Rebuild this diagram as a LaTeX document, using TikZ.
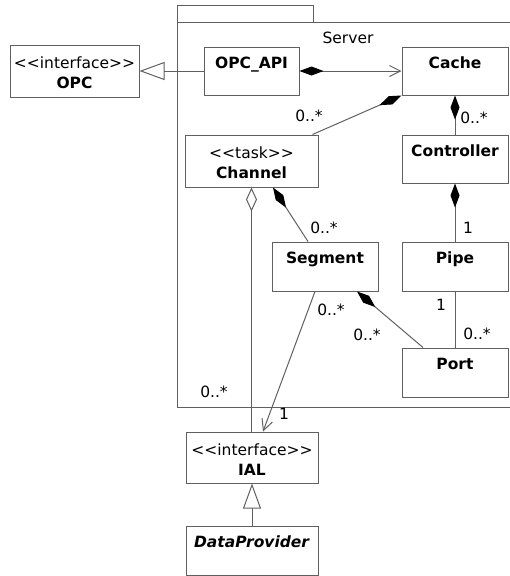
\documentclass[tikz,border=0pt]{standalone}
\usepackage{fontspec}
\setmainfont{DejaVu Sans}
\usetikzlibrary{arrows.meta}
\definecolor{linegray}{RGB}{96,96,96}

% stereotype in angle brackets, kept apart so no guillemets appear
\newcommand{\stereotype}[1]{<\kern0pt<#1>\kern0pt>}

\tikzset{
  classbox/.style={draw=linegray, inner xsep=0pt, inner ysep=0pt,
    minimum width=106pt, text height=21pt, text depth=27pt},
  stereobox/.style={classbox, align=center, text height=43pt, text depth=9pt},
  mult/.style={inner sep=0pt},
  gen/.style={-{Triangle[open,length=25pt,width=18pt]}},
  comp/.style={{Diamond[length=24pt,width=9pt,color=black]}-},
  aggr/.style={{Diamond[open,length=24pt,width=11pt]}-},
  nav/.style={-{Straight Barb[length=11pt,width=11pt]}},
  compnav/.style={{Diamond[length=24pt,width=9pt,color=black]}-{Straight Barb[length=11pt,width=11pt]}},
}

\begin{document}
\begin{tikzpicture}[x=1pt, y=-1pt, line width=1pt, font=\fontsize{15.5}{20}\selectfont]
  \useasboundingbox (0,0) rectangle (510,576);

  % package frame, open on the right
  \draw[linegray] (177,22) rectangle (313,5);
  \draw[linegray] (510,22) -- (177,22) -- (177,407) -- (510,407);
  \node (server) at (348,38) {Server};

  % classes
  \node[stereobox, minimum width=129pt] (opc) at (74.5,71) {\stereotype{interface}\\\textbf{OPC}};
  \node[classbox, minimum width=95pt] (api) at (251.5,71) {\textbf{OPC\_API}};
  \node[classbox] (cache) at (455,71) {\textbf{Cache}};
  \node[stereobox, minimum width=133pt] (channel) at (251.5,161) {\stereotype{task}\\\textbf{Channel}};
  \node[classbox] (controller) at (455,159) {\textbf{Controller}};
  \node[classbox, text depth=28pt] (segment) at (325,266.5) {\textbf{Segment}};
  \node[classbox, text depth=28pt] (pipe) at (455,266.5) {\textbf{Pipe}};
  \node[classbox, text depth=28pt] (port) at (455,372.5) {\textbf{Port}};
  \node[stereobox, minimum width=132pt, text depth=8pt] (ial) at (252,457.5) {\stereotype{interface}\\\textbf{IAL}};
  \node[classbox, minimum width=132pt, text depth=28pt] (provider) at (252,550.5) {\textbf{\textit{DataProvider}}};

  % relations
  \draw[linegray, gen] (api.west) -- (opc.east);
  \draw[linegray, compnav] (api.east) -- (cache.west);
  \draw[linegray, comp] (cache.south west) -- ([xshift=-6pt]channel.north east);
  \draw[linegray, comp] (cache.south) -- (controller.north);
  \draw[linegray, aggr] (channel.south) -- (channel.south |- ial.north);
  \draw[linegray, comp] ([xshift=21.5pt]channel.south) -- ([xshift=-17pt]segment.north);
  \draw[linegray, comp] (controller.south) -- (pipe.north);
  \draw[linegray] (pipe.south) -- (port.north);
  \draw[linegray, comp] ([xshift=32pt]segment.south) -- ([xshift=-32pt]port.north);
  \draw[linegray, nav] ([xshift=-10pt]segment.south) -- ([xshift=11pt]ial.north);
  \draw[linegray, gen] (provider.north) -- (ial.south);

  % multiplicities
  \node[mult] (m1) at (309,116) {0..*};
  \node[mult] (m2) at (474,118) {0..*};
  \node[mult] (m3) at (324,228) {0..*};
  \node[mult] (m4) at (468,228) {1};
  \node[mult] (m5) at (331,310) {0..*};
  \node[mult] (m6) at (367,335) {0..*};
  \node[mult] (m7) at (441,305) {1};
  \node[mult] (m8) at (477,334) {0..*};
  \node[mult] (m9) at (214,392) {0..*};
  \node[mult] (m10) at (284,414) {1};
\end{tikzpicture}
\end{document}
